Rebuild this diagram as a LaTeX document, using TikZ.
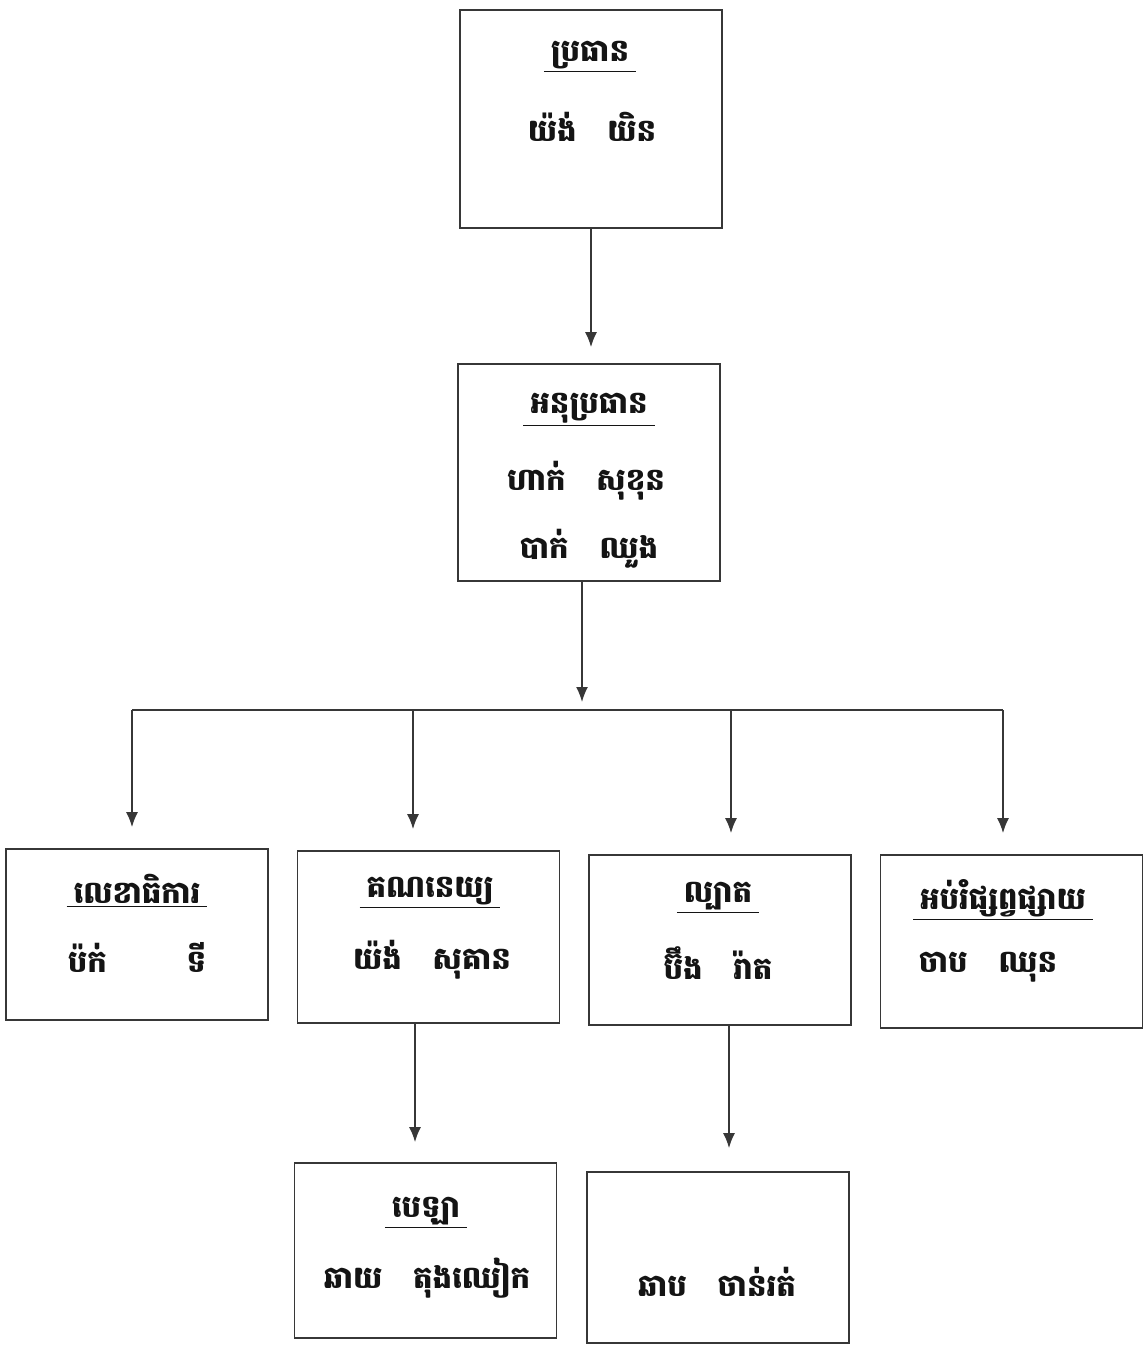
\documentclass[tikz,border=0pt]{standalone}
\usepackage{fontspec}
\newfontfamily\khmer[Script=Khmer]{Battambang}
\usetikzlibrary{arrows.meta,positioning}
\definecolor{rahmen}{RGB}{55,55,55}
\definecolor{schrift}{RGB}{20,20,20}
\newcommand{\ttl}[1]{\underline{\hspace{4pt}#1\hspace{4pt}}}

\begin{document}
\begin{tikzpicture}[x=0.02cm, y=-0.02cm, rahmen,
    kasten/.style={draw=rahmen, line width=1pt, minimum width=5.24cm, minimum height=#1, inner sep=0pt},
    schild/.style={schrift, font=\khmer\bfseries\fontsize{17.5}{21}\selectfont, inner sep=1pt},
    pfeil/.style={-{Latex[length=3mm, width=2.4mm]}, line width=0.9pt}]

    \useasboundingbox (0,0) rectangle (1147,1345);

    % Kaesten
    \node[kasten=4.36cm] (pres) at (591,119) {};
    \node[kasten=4.34cm] (vice) at (589,472.5) {};
    \node[kasten=3.42cm] (sec) at (137,934.5) {};
    \node[kasten=3.44cm] (acc) at (428.5,937) {};
    \node[kasten=3.40cm] (pat) at (720,940) {};
    \node[kasten=3.46cm] (edu) at (1011.5,941.5) {};
    \node[kasten=3.50cm] (cash) at (425.5,1250.5) {};
    \node[kasten=3.42cm] (last) at (718,1257.5) {};

    % Texte
    \node[schild] (presT) at (590,57) {\ttl{ប្រធាន}};
    \node[schild] (presN) at (592,127) {យ៉ង់\quad យិន};

    \node[schild] (viceT) at (589,410) {\ttl{អនុប្រធាន}};
    \node[schild] (viceN1) at (586,481) {ហាក់\quad សុខុន};
    \node[schild] (viceN2) at (589,549) {បាក់\quad ឈួង};

    \node[schild] (secT) at (137,891) {\ttl{លេខាធិការ}};
    \node[schild] (secN) at (137,957) {ប៉ក់\hspace{2.6em}ទី};

    \node[schild] (accT) at (430,893) {\ttl{គណនេយ្យ}};
    \node[schild] (accN) at (432,960) {យ៉ង់\quad សុគាន};

    \node[schild] (patT) at (718,898) {\ttl{ល្បាត}};
    \node[schild] (patN) at (718,963) {ប៊ឹង\quad រ៉ាត};

    \node[schild] (eduT) at (1003,900) {\ttl{អប់រំផ្សព្វផ្សាយ}};
    \node[schild] (eduN) at (988,967) {ចាប\quad ឈុន};

    \node[schild] (cashT) at (426,1213) {\ttl{បេឡា}};
    \node[schild] (cashN) at (427,1278) {ឆាយ\quad តុងឈៀក};

    \node[schild] (lastN) at (717,1282) {ឆាប\quad ចាន់រត់};

    % Pfeile
    \draw[pfeil, shorten >=3.2mm] (pres.south) -- (pres.south |- vice.north);

    \coordinate (bus) at (582,710);
    \coordinate (busL) at (132,710);
    \coordinate (busR) at (1003,710);
    \draw[pfeil, shorten >=1.6mm] (bus |- vice.south) -- (bus);
    \draw[line width=0.9pt] (busL) -- (busR);

    \foreach \n/\x in {sec/132, acc/413, pat/731, edu/1003}{
            \coordinate (top\n) at (\x,710);
            \draw[pfeil, shorten >=4.2mm] (top\n) -- (top\n |- \n.north);
        }

    \coordinate (accA) at (415,1000);
    \coordinate (patA) at (729,1000);
    \draw[pfeil, shorten >=4mm] (accA |- acc.south) -- (accA |- cash.north);
    \draw[pfeil, shorten >=4.6mm] (patA |- pat.south) -- (patA |- last.north);

\end{tikzpicture}
\end{document}
